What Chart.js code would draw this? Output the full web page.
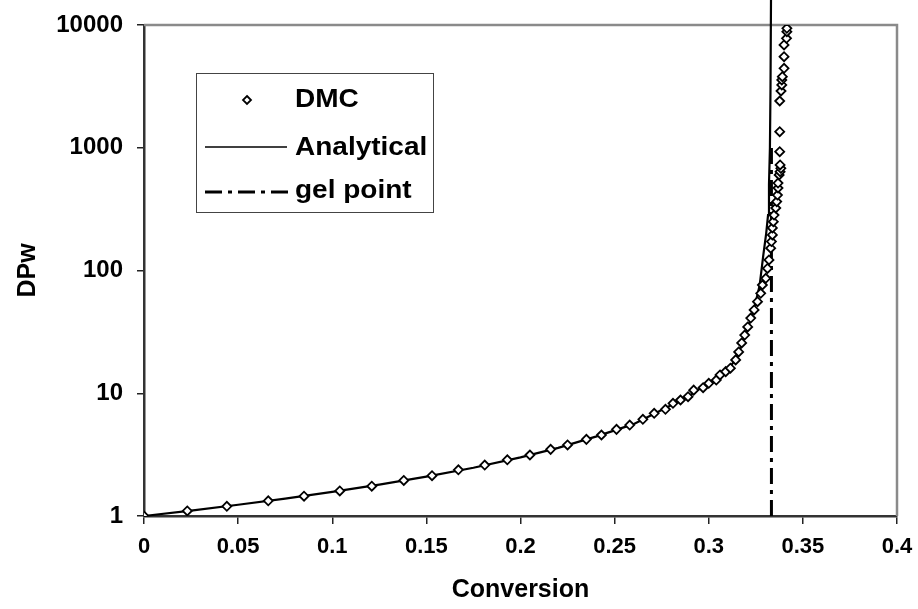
<!DOCTYPE html>
<html>
<head>
<meta charset="utf-8">
<script src="https://cdn.jsdelivr.net/npm/chart.js@4/dist/chart.umd.min.js"></script>
<style>
  html, body { margin: 0; padding: 0; background: #fff; }
  #wrap { width: 918px; height: 609px; }
</style>
</head>
<body>
<div id="wrap"><canvas id="dpw"></canvas></div>
<script>
// DMC simulation points (conversion, DPw)
var dmcX = [0, 0.023, 0.044, 0.066, 0.085, 0.104, 0.121, 0.138, 0.153, 0.167, 0.181, 0.193,
  0.205, 0.216, 0.225, 0.235, 0.243, 0.251, 0.258, 0.265, 0.271, 0.277, 0.281, 0.285,
  0.289, 0.292, 0.297, 0.300, 0.304, 0.306, 0.309, 0.3115, 0.3143, 0.3159, 0.3175, 0.3191,
  0.3207, 0.3223, 0.3241, 0.3259, 0.3276, 0.3285, 0.3303, 0.3312, 0.332, 0.3329, 0.3333,
  0.3338, 0.3338, 0.3343, 0.3347, 0.3356, 0.3361, 0.3365, 0.3368, 0.3368, 0.3374, 0.3379,
  0.3383, 0.3379, 0.3377, 0.3377, 0.3377, 0.3384, 0.3388, 0.3388, 0.3391, 0.34, 0.34, 0.34,
  0.3413, 0.3415, 0.3415];
var dmcY = [1, 1.10, 1.20, 1.33, 1.45, 1.60, 1.75, 1.95, 2.13, 2.38, 2.60, 2.87,
  3.14, 3.49, 3.79, 4.21, 4.57, 5.08, 5.51, 6.13, 6.87, 7.40, 8.28, 8.81,
  9.37, 10.6, 11.1, 12.05, 12.8, 14.1, 15.0, 16.0, 18.7, 21.7, 25.7, 29.8,
  34.7, 41.0, 47.7, 55.7, 65.2, 76.2, 86.4, 104, 122, 152, 172,
  195, 222, 250, 283, 323, 364, 412, 470, 516, 600, 638,
  680, 724, 929, 1352, 2404, 2900, 3247, 3565, 3793, 4440, 5520, 6875,
  7795, 8820, 9400];

// analytical curve
var anaX = [0, 0.025, 0.05, 0.075, 0.1, 0.125, 0.15, 0.175, 0.2, 0.22, 0.24, 0.26, 0.28,
  0.29, 0.30, 0.305, 0.31, 0.315, 0.318, 0.321, 0.324, 0.327, 0.329, 0.3305, 0.3315,
  0.332, 0.3325, 0.3328, 0.3331];
var anaY = [1, 1.108, 1.235, 1.387, 1.571, 1.8, 2.091, 2.474, 3, 3.588, 4.429, 5.6, 8.0,
  9.6, 12.2, 13.6, 15.5, 19.5, 26, 35, 48, 75, 134, 200, 283,
  500, 1000, 3000, 20000];

// gel point
var gelX = [0.3333, 0.3333];
var gelY = [1, 1000];

var yTicks = [1, 10, 100, 1000, 10000];

function pts(xs, ys) {
  return xs.map(function (x, i) { return { x: x, y: ys[i] }; });
}

var FONT = '"Liberation Sans", Arial, sans-serif';

var frame = {
  id: 'frame',
  beforeDatasetsDraw: function (chart) {
    var a = chart.chartArea, ctx = chart.ctx;
    ctx.save();
    ctx.strokeStyle = '#8a8a8a';
    ctx.lineWidth = 2.5;
    ctx.beginPath();
    ctx.moveTo(a.left, a.top);
    ctx.lineTo(a.right, a.top);
    ctx.lineTo(a.right, a.bottom);
    ctx.stroke();
    ctx.restore();
  }
};

var legendBox = {
  id: 'legendBox',
  afterDraw: function (chart) {
    var ctx = chart.ctx;
    ctx.save();
    ctx.fillStyle = '#fff';
    ctx.fillRect(196, 73, 237, 139);
    ctx.strokeStyle = '#444';
    ctx.lineWidth = 1;
    ctx.strokeRect(196.5, 73.5, 237, 139);

    // DMC marker
    ctx.beginPath();
    ctx.moveTo(247, 96); ctx.lineTo(251, 100); ctx.lineTo(247, 104); ctx.lineTo(243, 100);
    ctx.closePath();
    ctx.fillStyle = '#fff'; ctx.fill();
    ctx.strokeStyle = '#000'; ctx.lineWidth = 1.8; ctx.stroke();

    // analytical
    ctx.beginPath();
    ctx.moveTo(205, 147); ctx.lineTo(287, 147);
    ctx.lineWidth = 1.5; ctx.stroke();

    // gel point
    ctx.beginPath();
    ctx.setLineDash([17, 6, 4, 6]);
    ctx.moveTo(205, 192); ctx.lineTo(288, 192);
    ctx.lineWidth = 3; ctx.stroke();
    ctx.setLineDash([]);

    ctx.fillStyle = '#000';
    ctx.font = 'bold 25px ' + FONT;
    ctx.textBaseline = 'middle';
    ctx.textAlign = 'left';
    var labels = [['DMC', 100], ['Analytical', 148], ['gel point', 191]];
    labels.forEach(function (l) {
      ctx.save();
      ctx.translate(295, l[1]);
      ctx.scale(1.12, 1);
      ctx.fillText(l[0], 0, 0);
      ctx.restore();
    });
    ctx.restore();
  }
};

new Chart(document.getElementById('dpw'), {
  type: 'scatter',
  data: {
    datasets: [{
      label: 'DMC',
      data: pts(dmcX, dmcY),
      showLine: false,
      pointStyle: 'rectRot',
      pointRadius: 4.5,
      pointBorderWidth: 1.8,
      borderColor: '#000',
      backgroundColor: '#fff',
      order: 0
    }, {
      label: 'Analytical',
      data: pts(anaX, anaY),
      showLine: true,
      pointRadius: 0,
      borderColor: '#000',
      borderWidth: 2.2,
      tension: 0,
      clip: false,
      order: 1
    }, {
      label: 'gel point',
      data: pts(gelX, gelY),
      showLine: true,
      pointRadius: 0,
      borderColor: '#000',
      borderWidth: 3,
      borderDash: [16, 6, 4, 6],
      order: 2
    }]
  },
  options: {
    responsive: true,
    maintainAspectRatio: false,
    animation: false,
    layout: { padding: { left: 0, right: 21, top: 25, bottom: 0 } },
    plugins: {
      legend: { display: false },
      tooltip: { enabled: false }
    },
    scales: {
      x: {
        type: 'linear',
        min: 0,
        max: 0.4,
        afterFit: function (s) {
          s.height = 93;
          s.paddingLeft = 0;
          s.paddingRight = 0;
        },
        ticks: {
          stepSize: 0.05,
          color: '#000',
          padding: 10,
          maxRotation: 0,
          font: { family: FONT, size: 22, weight: 'bold' },
          callback: function (v) { return String(parseFloat(v.toFixed(2))); }
        },
        grid: { display: true, drawOnChartArea: false, drawTicks: true, tickLength: 8, color: '#222', lineWidth: 1.5 },
        border: { display: true, color: '#333', width: 2.5 },
        title: {
          display: true,
          text: 'Conversion',
          color: '#000',
          padding: { top: 0, bottom: 4 },
          font: { family: FONT, size: 25, weight: 'bold' }
        }
      },
      y: {
        type: 'logarithmic',
        min: 1,
        max: 10000,
        afterFit: function (s) {
          s.width = 144;
          s.paddingTop = 0;
          s.paddingBottom = 0;
        },
        afterBuildTicks: function (s) {
          s.ticks = yTicks.map(function (v) { return { value: v }; });
        },
        ticks: {
          color: '#000',
          padding: 14,
          font: { family: FONT, size: 24, weight: 'bold' },
          callback: function (v) { return String(v); }
        },
        grid: { display: true, drawOnChartArea: false, drawTicks: true, tickLength: 7, color: '#222', lineWidth: 1.5 },
        border: { display: true, color: '#333', width: 2.5 },
        title: {
          display: true,
          text: 'DPw',
          color: '#000',
          padding: { top: 13, bottom: 0 },
          font: { family: FONT, size: 25, weight: 'bold' }
        }
      }
    }
  },
  plugins: [frame, legendBox]
});
</script>
</body>
</html>
